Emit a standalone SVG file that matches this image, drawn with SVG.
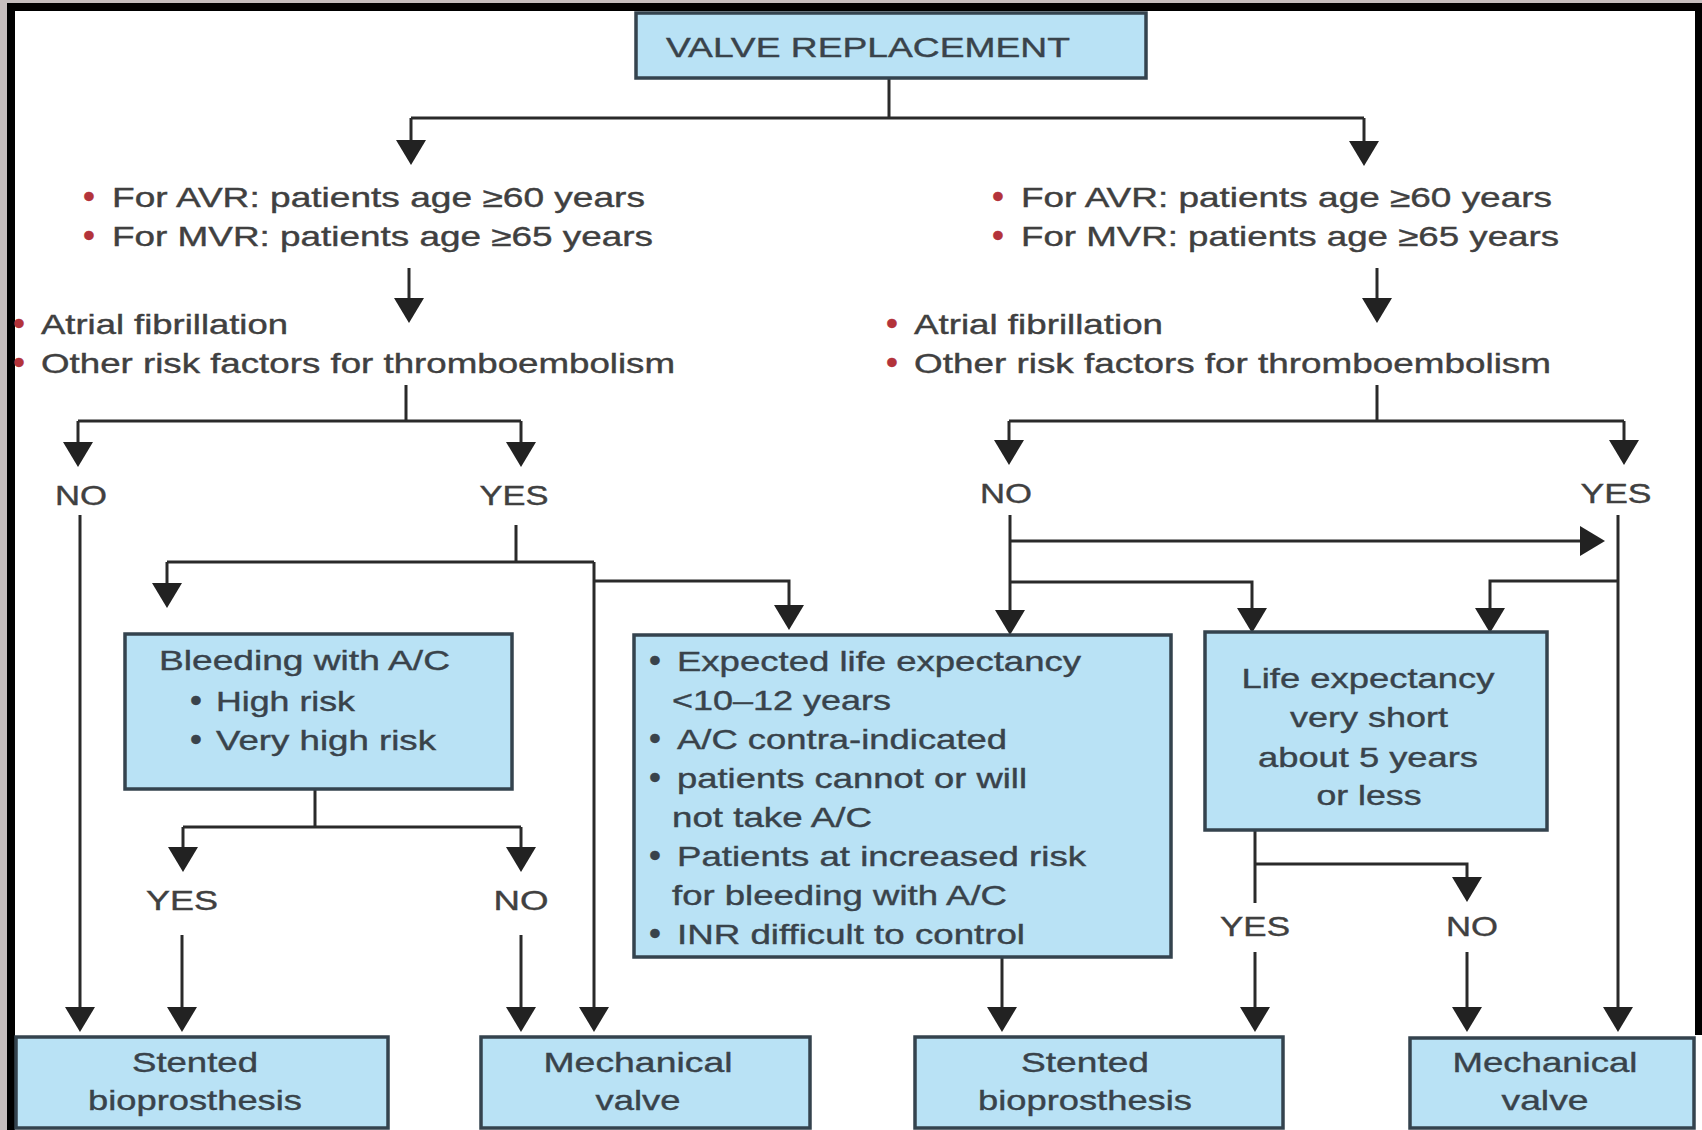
<svg xmlns="http://www.w3.org/2000/svg" width="1702" height="1130" viewBox="0 0 1702 1130">
<defs>
<style>
.t{font-family:"Liberation Sans",Arial,sans-serif;font-size:28px;fill:#39434b;stroke:#39434b;stroke-width:0.4}
.o{fill:#404040;stroke:#404040}
.m{text-anchor:middle}
.b{font-size:34px}
.r{fill:#b3333a;stroke:#b3333a}
.box{fill:#b9e2f5;stroke:#34434e;stroke-width:3.5}
.ln{fill:none;stroke:#2a2a2a;stroke-width:3}
</style>
<marker id="ah" markerUnits="userSpaceOnUse" markerWidth="30" markerHeight="30" refX="19" refY="15" orient="auto">
<path d="M0,0 L25,15 L0,30 Z" fill="#222"/>
</marker>
</defs>
<rect x="0" y="0" width="1702" height="1130" fill="#ffffff"/>
<rect x="0" y="0" width="7" height="1130" fill="#c5bebe"/>
<rect x="0" y="0" width="1702" height="3" fill="#c5bebe"/>
<rect x="7" y="3" width="8" height="1127" fill="#000"/>
<rect x="7" y="3" width="1695" height="8" fill="#000"/>
<rect x="1695" y="3" width="7" height="1032" fill="#000"/>

<g id="connectors">
<path class="ln" d="M889,78 V118 M411,118 H1364"/>
<path class="ln" marker-end="url(#ah)" d="M411,118 V159"/>
<path class="ln" marker-end="url(#ah)" d="M1364,118 V160"/>
<path class="ln" marker-end="url(#ah)" d="M409,268 V317"/>
<path class="ln" marker-end="url(#ah)" d="M1377,268 V317"/>
<path class="ln" d="M406,385 V421 M78,421 H521"/>
<path class="ln" marker-end="url(#ah)" d="M78,421 V461"/>
<path class="ln" marker-end="url(#ah)" d="M521,421 V461"/>
<path class="ln" d="M1377,385 V421 M1009,421 H1624"/>
<path class="ln" marker-end="url(#ah)" d="M1009,421 V459"/>
<path class="ln" marker-end="url(#ah)" d="M1624,421 V459"/>
<path class="ln" marker-end="url(#ah)" d="M80,515 V1026"/>
<path class="ln" d="M516,525 V562 M167,562 H594"/>
<path class="ln" marker-end="url(#ah)" d="M167,562 V602"/>
<path class="ln" marker-end="url(#ah)" d="M594,562 V1026"/>
<path class="ln" marker-end="url(#ah)" d="M594,581 H789 V624"/>
<path class="ln" d="M315,790 V827 M183,827 H521"/>
<path class="ln" marker-end="url(#ah)" d="M183,827 V866"/>
<path class="ln" marker-end="url(#ah)" d="M521,827 V866"/>
<path class="ln" marker-end="url(#ah)" d="M182,935 V1026"/>
<path class="ln" marker-end="url(#ah)" d="M521,935 V1026"/>
<path class="ln" marker-end="url(#ah)" d="M1010,515 V629"/>
<path class="ln" marker-end="url(#ah)" d="M1010,541 H1599"/>
<path class="ln" marker-end="url(#ah)" d="M1010,582 H1252 V627"/>
<path class="ln" marker-end="url(#ah)" d="M1618,515 V1026"/>
<path class="ln" marker-end="url(#ah)" d="M1618,581 H1490 V627"/>
<path class="ln" marker-end="url(#ah)" d="M1002,957 V1026"/>
<path class="ln" d="M1255,830 V903"/>
<path class="ln" marker-end="url(#ah)" d="M1255,864 H1467 V896"/>
<path class="ln" marker-end="url(#ah)" d="M1255,952 V1026"/>
<path class="ln" marker-end="url(#ah)" d="M1467,952 V1026"/>
</g>

<g id="n-title">
<rect class="box" x="636" y="13" width="510" height="65"/>
<text class="t" x="666" y="57" font-size="31" textLength="404" lengthAdjust="spacingAndGlyphs">VALVE REPLACEMENT</text>
</g>

<g id="n-age-left">
<text class="t b r" x="83" y="208">•</text>
<text class="t o" x="112" y="207" textLength="533" lengthAdjust="spacingAndGlyphs">For AVR: patients age ≥60 years</text>
<text class="t b r" x="83" y="247">•</text>
<text class="t o" x="112" y="246" textLength="541" lengthAdjust="spacingAndGlyphs">For MVR: patients age ≥65 years</text>
</g>

<g id="n-risk-left">
<text class="t b r" x="13" y="335">•</text>
<text class="t o" x="41" y="334" textLength="247" lengthAdjust="spacingAndGlyphs">Atrial fibrillation</text>
<text class="t b r" x="13" y="374">•</text>
<text class="t o" x="41" y="373" textLength="634" lengthAdjust="spacingAndGlyphs">Other risk factors for thromboembolism</text>
</g>

<g id="n-age-right">
<text class="t b r" x="992" y="208">•</text>
<text class="t o" x="1021" y="207" textLength="531" lengthAdjust="spacingAndGlyphs">For AVR: patients age ≥60 years</text>
<text class="t b r" x="992" y="247">•</text>
<text class="t o" x="1021" y="246" textLength="538" lengthAdjust="spacingAndGlyphs">For MVR: patients age ≥65 years</text>
</g>

<g id="n-risk-right">
<text class="t b r" x="886" y="335">•</text>
<text class="t o" x="914" y="334" textLength="249" lengthAdjust="spacingAndGlyphs">Atrial fibrillation</text>
<text class="t b r" x="886" y="374">•</text>
<text class="t o" x="914" y="373" textLength="637" lengthAdjust="spacingAndGlyphs">Other risk factors for thromboembolism</text>
</g>

<g id="labels">
<text class="t o m" x="81" y="505" textLength="52" lengthAdjust="spacingAndGlyphs">NO</text>
<text class="t o m" x="514" y="505" textLength="69" lengthAdjust="spacingAndGlyphs">YES</text>
<text class="t o m" x="1006" y="503" textLength="52" lengthAdjust="spacingAndGlyphs">NO</text>
<text class="t o m" x="1616" y="503" textLength="71" lengthAdjust="spacingAndGlyphs">YES</text>
<text class="t o m" x="182" y="910" textLength="72" lengthAdjust="spacingAndGlyphs">YES</text>
<text class="t o m" x="521" y="910" textLength="55" lengthAdjust="spacingAndGlyphs">NO</text>
<text class="t o m" x="1255" y="936" textLength="70" lengthAdjust="spacingAndGlyphs">YES</text>
<text class="t o m" x="1472" y="936" textLength="52" lengthAdjust="spacingAndGlyphs">NO</text>
</g>

<g id="n-bleeding">
<rect class="box" x="125" y="634" width="387" height="155"/>
<text class="t" x="159" y="670" textLength="291" lengthAdjust="spacingAndGlyphs">Bleeding with A/C</text>
<text class="t b" x="190" y="712">•</text>
<text class="t" x="216" y="711" textLength="139" lengthAdjust="spacingAndGlyphs">High risk</text>
<text class="t b" x="190" y="751">•</text>
<text class="t" x="216" y="750" textLength="220" lengthAdjust="spacingAndGlyphs">Very high risk</text>
</g>

<g id="n-criteria">
<rect class="box" x="634" y="635" width="537" height="322"/>
<text class="t b" x="649" y="672">•</text>
<text class="t" x="677" y="671" textLength="404" lengthAdjust="spacingAndGlyphs">Expected life expectancy</text>
<text class="t" x="672" y="710" textLength="219" lengthAdjust="spacingAndGlyphs">&lt;10–12 years</text>
<text class="t b" x="649" y="750">•</text>
<text class="t" x="677" y="749" textLength="330" lengthAdjust="spacingAndGlyphs">A/C contra-indicated</text>
<text class="t b" x="649" y="789">•</text>
<text class="t" x="677" y="788" textLength="350" lengthAdjust="spacingAndGlyphs">patients cannot or will</text>
<text class="t" x="672" y="827" textLength="200" lengthAdjust="spacingAndGlyphs">not take A/C</text>
<text class="t b" x="649" y="867">•</text>
<text class="t" x="677" y="866" textLength="409" lengthAdjust="spacingAndGlyphs">Patients at increased risk</text>
<text class="t" x="672" y="905" textLength="335" lengthAdjust="spacingAndGlyphs">for bleeding with A/C</text>
<text class="t b" x="649" y="945">•</text>
<text class="t" x="677" y="944" textLength="348" lengthAdjust="spacingAndGlyphs">INR difficult to control</text>
</g>

<g id="n-life">
<rect class="box" x="1205" y="632" width="342" height="198"/>
<text class="t m" x="1368" y="688" textLength="253" lengthAdjust="spacingAndGlyphs">Life expectancy</text>
<text class="t m" x="1369" y="727" textLength="158" lengthAdjust="spacingAndGlyphs">very short</text>
<text class="t m" x="1368" y="767" textLength="220" lengthAdjust="spacingAndGlyphs">about 5 years</text>
<text class="t m" x="1369" y="805" textLength="105" lengthAdjust="spacingAndGlyphs">or less</text>
</g>

<g id="n-stented-left">
<rect class="box" x="16" y="1037" width="372" height="91"/>
<text class="t m" x="195" y="1072" textLength="126" lengthAdjust="spacingAndGlyphs">Stented</text>
<text class="t m" x="195" y="1110" textLength="214" lengthAdjust="spacingAndGlyphs">bioprosthesis</text>
</g>

<g id="n-mech-left">
<rect class="box" x="481" y="1037" width="329" height="91"/>
<text class="t m" x="638" y="1072" textLength="189" lengthAdjust="spacingAndGlyphs">Mechanical</text>
<text class="t m" x="638" y="1110" textLength="85" lengthAdjust="spacingAndGlyphs">valve</text>
</g>

<g id="n-stented-right">
<rect class="box" x="915" y="1037" width="368" height="91"/>
<text class="t m" x="1085" y="1072" textLength="128" lengthAdjust="spacingAndGlyphs">Stented</text>
<text class="t m" x="1085" y="1110" textLength="214" lengthAdjust="spacingAndGlyphs">bioprosthesis</text>
</g>

<g id="n-mech-right">
<rect class="box" x="1410" y="1038" width="284" height="90"/>
<text class="t m" x="1545" y="1072" textLength="185" lengthAdjust="spacingAndGlyphs">Mechanical</text>
<text class="t m" x="1545" y="1110" textLength="87" lengthAdjust="spacingAndGlyphs">valve</text>
</g>
</svg>
